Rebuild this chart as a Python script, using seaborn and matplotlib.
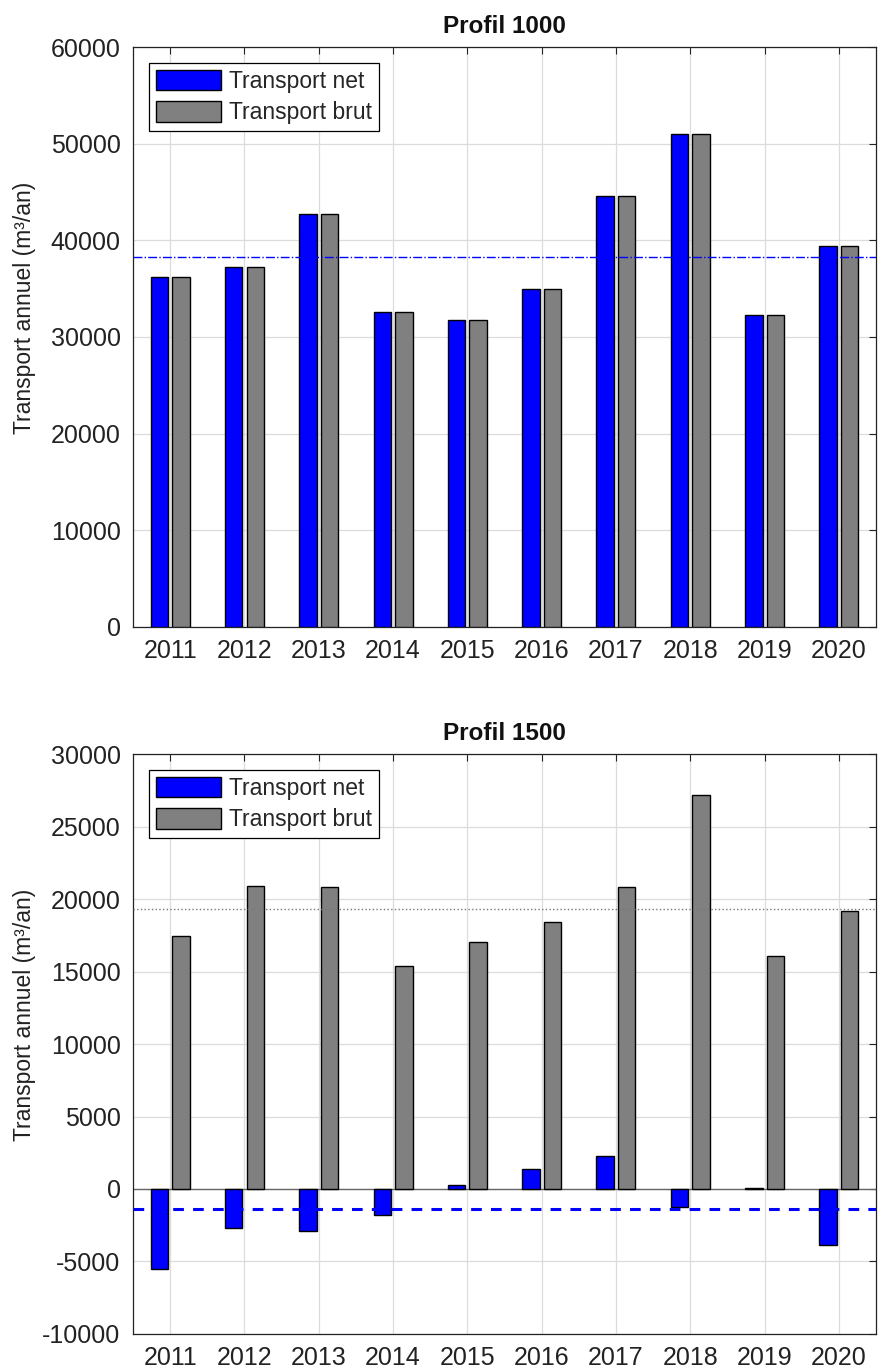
import numpy as np
import pandas as pd
import matplotlib
matplotlib.use("Agg")
import matplotlib.pyplot as plt
import seaborn as sns

years = [2011, 2012, 2013, 2014, 2015, 2016, 2017, 2018, 2019, 2020]
p1000_net = [36200, 37200, 42700, 32600, 31800, 35000, 44600, 51000, 32300, 39400]
p1000_brut = [36200, 37200, 42700, 32600, 31800, 35000, 44600, 51000, 32300, 39400]
p1500_net = [-5540, -2700, -2880, -1820, 290, 1350, 2260, -1260, 100, -3850]
p1500_brut = [17450, 20900, 20830, 15380, 17030, 18450, 20850, 27200, 16040, 19150]
series = ["Transport net", "Transport brut"]
titles = ["Profil 1000", "Profil 1500"]
ylabel = "Transport annuel (m³/an)"
yticks_1000 = [0, 10000, 20000, 30000, 40000, 50000, 60000]
yticks_1500 = [-10000, -5000, 0, 5000, 10000, 15000, 20000, 25000, 30000]

sns.set_theme(style="white")
plt.rcParams["font.family"] = ["Liberation Sans", "DejaVu Sans"]

BLUE = "#0000ff"
GRAY = "#808080"

fig = plt.figure(figsize=(8.87, 13.71), dpi=100)
ax1 = fig.add_axes([0.150, 0.5427, 0.8376, 0.4230])
ax2 = fig.add_axes([0.150, 0.0270, 0.8376, 0.4230])


def panel(ax, title, net, brut, yticks):
    df = pd.DataFrame({
        "Année": [str(y) for y in years] * 2,
        "Série": [series[0]] * len(years) + [series[1]] * len(years),
        "Valeur": list(net) + list(brut),
    })
    sns.barplot(data=df, x="Année", y="Valeur", hue="Série",
                palette={series[0]: BLUE, series[1]: GRAY},
                width=0.58, gap=0.19, saturation=1,
                edgecolor="black", linewidth=1.0, ax=ax, zorder=3,
                errorbar=None)
    ax.set_axisbelow(True)
    ax.grid(True, color="#dcdcdc", linewidth=0.9)
    ax.set_ylim(yticks[0], yticks[-1])
    ax.set_xlim(-0.5, len(years) - 0.5)
    ax.set_yticks(yticks)
    ax.set_yticklabels([str(t) for t in yticks])
    ax.set_xlabel("")
    ax.set_ylabel(ylabel, fontsize=16.5, color="#222222")
    ax.yaxis.set_label_coords(-0.130, 0.55)
    ax.set_title(title, fontsize=17.5, fontweight="bold", pad=10, color="#111111")
    ax.tick_params(axis="both", direction="in", top=True, right=True,
                   labelsize=18, length=5, width=0.8, colors="#222222")
    ax.tick_params(axis="x", pad=9)
    ax.tick_params(axis="y", pad=9)
    for s in ax.spines.values():
        s.set_visible(True)
        s.set_color("#222222")
        s.set_linewidth(0.9)
    leg = ax.legend(loc="upper left", fontsize=16.5, frameon=True,
                    fancybox=False, edgecolor="black", framealpha=1,
                    handlelength=2.85, handleheight=1.0, borderaxespad=0.7,
                    borderpad=0.3, labelspacing=0.35, handletextpad=0.33)
    leg.get_frame().set_linewidth(0.9)


panel(ax1, titles[0], p1000_net, p1000_brut, yticks_1000)
ax1.axhline(np.mean(p1000_net), color=BLUE, ls="-.", lw=1.0, zorder=4)

panel(ax2, titles[1], p1500_net, p1500_brut, yticks_1500)
ax2.axhline(0, color="#666666", lw=1.0, zorder=2)
ax2.axhline(np.mean(p1500_net), color=BLUE, ls=(0, (3.5, 3)), lw=2.2, zorder=4)
ax2.axhline(np.mean(p1500_brut), color="#777777", ls=":", lw=1.0, zorder=4)

fig.savefig("out.png", dpi=100)
